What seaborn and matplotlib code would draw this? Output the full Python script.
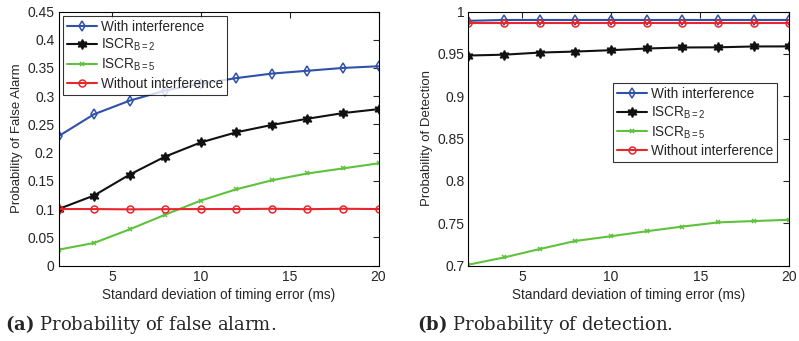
import numpy as np
import pandas as pd
import seaborn as sns
import matplotlib
matplotlib.use("Agg")
import matplotlib.pyplot as plt

sns.set_style("white")
plt.rcParams['font.family'] = ['Liberation Sans', 'DejaVu Sans']
plt.rcParams['mathtext.fontset'] = 'custom'
plt.rcParams['mathtext.rm'] = 'Liberation Sans'
plt.rcParams['mathtext.it'] = 'Liberation Sans'
plt.rcParams['mathtext.bf'] = 'DejaVu Serif:bold'

sigma = [2, 4, 6, 8, 10, 12, 14, 16, 18, 20]

pfa_with = [0.229, 0.268, 0.292, 0.310, 0.322, 0.332, 0.340, 0.345, 0.350, 0.353]
pfa_iscr2 = [0.100, 0.124, 0.161, 0.193, 0.218, 0.236, 0.249, 0.260, 0.270, 0.277]
pfa_iscr5 = [0.028, 0.040, 0.064, 0.090, 0.115, 0.135, 0.151, 0.163, 0.172, 0.181]
pfa_without = [0.100, 0.100, 0.0995, 0.0998, 0.100, 0.100, 0.1005, 0.0998, 0.1005, 0.100]

pd_with = [0.989, 0.990, 0.990, 0.990, 0.990, 0.990, 0.990, 0.990, 0.990, 0.990]
pd_iscr2 = [0.948, 0.949, 0.9515, 0.9527, 0.9543, 0.9563, 0.9575, 0.9577, 0.9587, 0.9588]
pd_iscr5 = [0.701, 0.7095, 0.7195, 0.729, 0.7346, 0.7405, 0.746, 0.7509, 0.7525, 0.754]
pd_without = [0.987, 0.987, 0.987, 0.987, 0.987, 0.987, 0.987, 0.987, 0.987, 0.987]

labels = ["With interference", "ISCR$_{\\mathrm{B=2}}$", "ISCR$_{\\mathrm{B=5}}$", "Without interference"]
colors = ["#2f52a8", "#111111", "#5fc23c", "#e8262c"]
markers = ["d", (6, 1, 0), "x", "o"]
mfc = ["none", "#111111", "#5fc23c", "none"]
msize = [5.5, 7, 3.5, 5]

xlabel = "Standard deviation of timing error (ms)"

fig = plt.figure(figsize=(7.99, 3.41), dpi=100)
ax1 = fig.add_axes([58.5/799, 1 - 265.5/341, 320/799, 254/341])
ax2 = fig.add_axes([468.5/799, 1 - 265.5/341, 321/799, 254/341])

def draw(ax, series, ylabel, ylim, yticks, yticklabels, legloc):
    for s, lab, c, m, fc, ms in zip(series, labels, colors, markers, mfc, msize):
        df = pd.DataFrame({"x": sigma, "y": s})
        sns.lineplot(data=df, x="x", y="y", ax=ax, color=c, marker=m,
                     markerfacecolor=fc, markeredgecolor=c, markersize=ms,
                     markeredgewidth=1.1, linewidth=1.5, label=lab)
    ax.set_xlim(2, 20)
    ax.set_ylim(*ylim)
    ax.set_xticks([5, 10, 15, 20])
    ax.set_xticklabels(["5", "10", "15", "20"])
    ax.set_yticks(yticks)
    ax.set_yticklabels(yticklabels)
    ax.tick_params(direction="in", top=True, right=True, labelsize=10, length=4, width=0.8, pad=3)
    for sp in ax.spines.values():
        sp.set_color("black")
        sp.set_linewidth(0.8)
    ax.set_xlabel(xlabel, fontsize=9.8, labelpad=3)
    ax.set_ylabel(ylabel, fontsize=9.5, labelpad=3)
    leg = ax.legend(loc=legloc, fontsize=9.8, frameon=True, fancybox=False,
                    edgecolor="black", borderpad=0.3, labelspacing=0.25,
                    handlelength=2.2, handletextpad=0.3, borderaxespad=0.3)
    leg.get_frame().set_linewidth(0.8)
    return leg

draw(ax1, [pfa_with, pfa_iscr2, pfa_iscr5, pfa_without], "Probability of False Alarm",
     (0, 0.45), [0, 0.05, 0.1, 0.15, 0.2, 0.25, 0.3, 0.35, 0.4, 0.45],
     ["0", "0.05", "0.1", "0.15", "0.2", "0.25", "0.3", "0.35", "0.4", "0.45"], "upper left")
leg2 = draw(ax2, [pd_with, pd_iscr2, pd_iscr5, pd_without], "Probability of Detection",
     (0.7, 1.0), [0.7, 0.75, 0.8, 0.85, 0.9, 0.95, 1.0],
     ["0.7", "0.75", "0.8", "0.85", "0.9", "0.95", "1"], "upper right")
leg2.set_bbox_to_anchor((0.975, 0.735), transform=ax2.transAxes)

fig.text(5/799, 1 - 325/341, r"$\bf{(a)}$ Probability of false alarm.", fontsize=13,
         family="DejaVu Serif", va="center")
fig.text(417/799, 1 - 325/341, r"$\bf{(b)}$ Probability of detection.", fontsize=13,
         family="DejaVu Serif", va="center")

fig.savefig("out.png", dpi=100)
